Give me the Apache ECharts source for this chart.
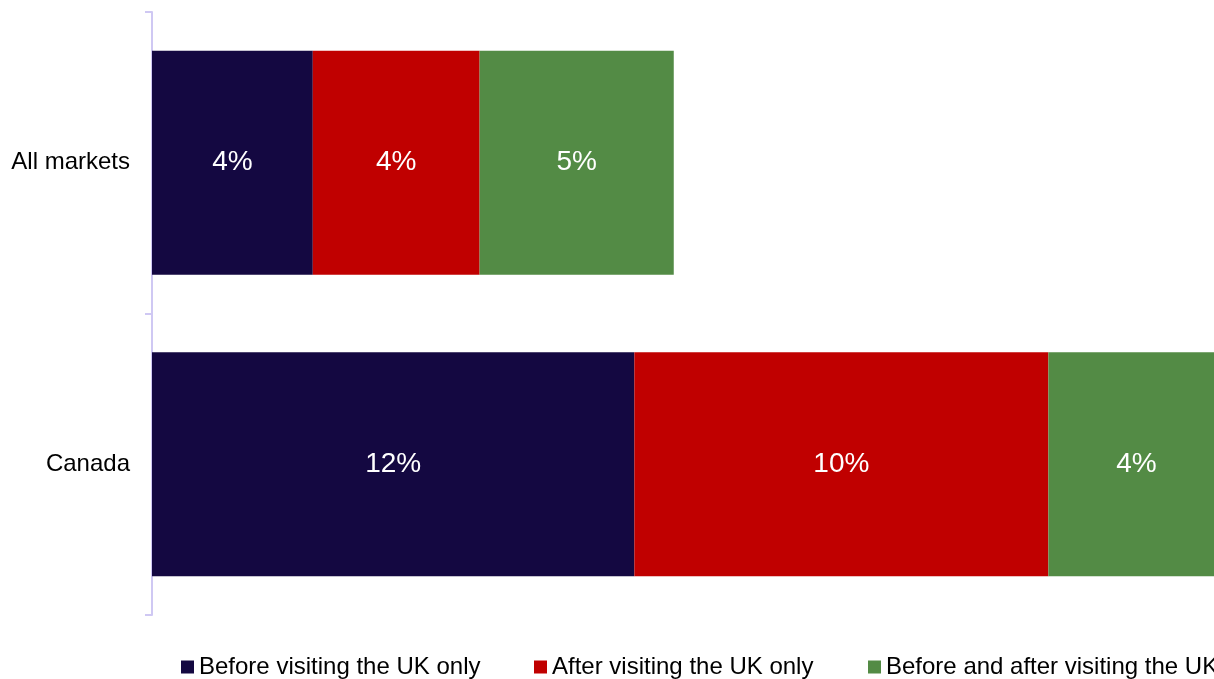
<!DOCTYPE html>
<html>
<head>
<meta charset="utf-8">
<script src="https://cdn.jsdelivr.net/npm/echarts@6/dist/echarts.min.js"></script>
<style>
  html, body { margin: 0; padding: 0; background: #ffffff; }
  #chart { width: 1214px; height: 679px; }
</style>
</head>
<body>
<div id="chart"></div>
<script>
// Where travellers looked for information: share of respondents by timing
const categories = ['All markets', 'Canada'];
const seriesNames = ['Before visiting the UK only', 'After visiting the UK only', 'Before and after visiting the UK'];
const beforeOnly = [4.0, 12.0];
const afterOnly = [4.15, 10.3];
const beforeAndAfter = [4.83, 4.38];
const colors = ['#140841', '#c00000', '#538b45'];

const FONT = '"Liberation Sans", Arial, sans-serif';

const valueSets = [beforeOnly, afterOnly, beforeAndAfter];

const series = seriesNames.map((name, i) => ({
  name: name,
  type: 'bar',
  stack: 'total',
  data: valueSets[i],
  barCategoryGap: '25.7%',
  clip: false,
  itemStyle: { color: colors[i] },
  label: {
    show: true,
    position: 'inside',
    color: '#ffffff',
    fontFamily: FONT,
    fontSize: 28,
    formatter: p => Math.round(p.value) + '%'
  },
  emphasis: { disabled: true }
}));

const legendLefts = [181, 534, 868];
const legends = seriesNames.map((name, i) => ({
  data: [name],
  left: legendLefts[i],
  top: 655,
  orient: 'horizontal',
  itemWidth: 13,
  itemHeight: 13,
  icon: 'rect',
  padding: 0,
  selectedMode: false,
  textStyle: { fontFamily: FONT, fontSize: 24, color: '#000000', lineHeight: 24 }
}));

const chart = echarts.init(document.getElementById('chart'), null, { renderer: 'canvas' });
chart.setOption({
  animation: false,
  backgroundColor: '#ffffff',
  grid: { left: 152, top: 12, right: 0, height: 603, containLabel: false },
  legend: legends,
  xAxis: {
    type: 'value',
    min: 0,
    max: 26.42,
    show: false
  },
  yAxis: {
    type: 'category',
    data: categories,
    inverse: true,
    axisLine: { show: true, lineStyle: { color: '#cfc8f3', width: 2 } },
    axisTick: { show: true, length: 7, lineStyle: { color: '#cfc8f3', width: 2 } },
    axisLabel: { margin: 22, fontFamily: FONT, fontSize: 24, color: '#000000' },
    splitLine: { show: false }
  },
  series: series
});
</script>
</body>
</html>
